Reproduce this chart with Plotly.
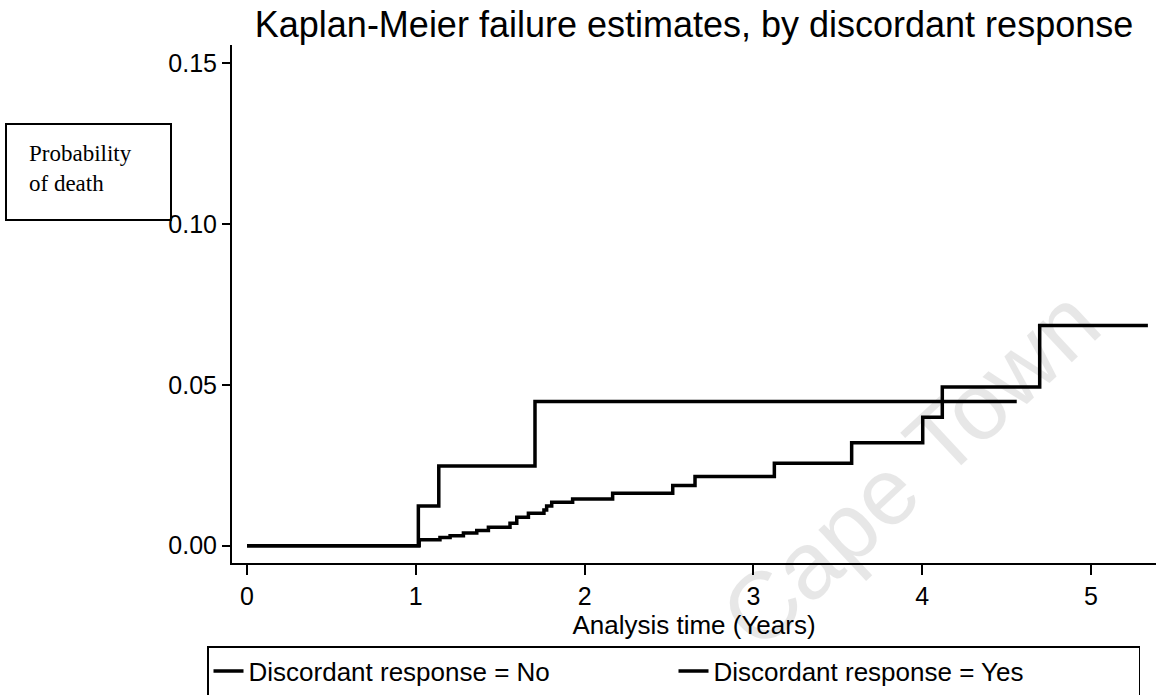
import plotly.graph_objects as go

# Kaplan-Meier failure estimates
time_no = [0, 1.02, 1.143, 1.203, 1.282, 1.361, 1.430, 1.558, 1.598, 1.667, 1.759, 1.775,
           1.805, 1.929, 2.166, 2.522, 2.654, 3.124, 3.582, 4.003, 4.119, 4.696, 5.337]
fail_no = [0, 0.0018, 0.0025, 0.0031, 0.0039, 0.0047, 0.0057, 0.0070, 0.0088, 0.0101, 0.0111,
           0.0123, 0.0135, 0.0145, 0.0163, 0.0187, 0.0215, 0.0256, 0.0320, 0.0399, 0.0493,
           0.0685, 0.0685]

time_yes = [0, 1.015, 1.136, 1.706, 4.56]
fail_yes = [0, 0.0123, 0.0248, 0.0448, 0.0448]

series_names = ["Discordant response = No", "Discordant response = Yes"]
x_ticks = [0, 1, 2, 3, 4, 5]
y_ticks = [0.00, 0.05, 0.10, 0.15]

title_text = "Kaplan-Meier failure estimates, by discordant response"
x_title = "Analysis time (Years)"
y_title = "Probability<br>of death"
watermark = "Cape Town"

W, H = 1156, 695
L, R, T, B = 232, 0, 45, 132
PW, PH = W - L - R, H - T - B


def px(xp):
    return (xp - L) / PW


def py(yp):
    return (H - B - yp) / PH


sans = "Liberation Sans, Arial, Helvetica, sans-serif"
serif = "Liberation Serif, Times New Roman, serif"

fig = go.Figure()
fig.add_trace(go.Scatter(x=time_no, y=fail_no, mode="lines", line_shape="hv",
                         line=dict(color="black", width=3.5), name=series_names[0]))
fig.add_trace(go.Scatter(x=time_yes, y=fail_yes, mode="lines", line_shape="hv",
                         line=dict(color="black", width=3.5), name=series_names[1]))

fig.update_layout(
    width=W, height=H,
    margin=dict(l=L, r=R, t=T, b=B, autoexpand=False),
    paper_bgcolor="white", plot_bgcolor="white",
    font=dict(family=sans, color="black"),
    title=dict(text=title_text, font=dict(family=sans, size=36, color="black"),
               x=0.5, xref="paper", xanchor="center", y=1 - 24 / H, yref="container",
               yanchor="middle"),
    xaxis=dict(range=[-0.089, 5.385], tickvals=x_ticks, ticks="outside", ticklen=10,
               tickwidth=2, tickcolor="black", showline=True, linecolor="black",
               linewidth=2, showgrid=False, zeroline=False,
               tickfont=dict(size=25, family=sans),
               title=dict(text=x_title, font=dict(size=26, family=sans), standoff=0)),
    yaxis=dict(range=[-0.0054, 0.1557], tickvals=y_ticks, tickformat=".2f",
               ticks="outside", ticklen=8, tickwidth=2, tickcolor="black",
               showline=True, linecolor="black", linewidth=2, showgrid=False,
               zeroline=False, tickfont=dict(size=25, family=sans)),
    showlegend=True,
    legend=dict(orientation="h", x=px(207), y=py(646), xanchor="left", yanchor="top",
                bordercolor="black", borderwidth=1.5, font=dict(size=26, family=sans),
                entrywidth=420, entrywidthmode="pixels", bgcolor="rgba(0,0,0,0)"),
)

# Box with y-axis description
fig.add_shape(type="rect", xref="paper", yref="paper",
              x0=px(6), x1=px(171), y0=py(220), y1=py(124),
              line=dict(color="black", width=2), layer="above")
fig.add_annotation(text=y_title, xref="paper", yref="paper", x=px(27), y=py(168),
                   xanchor="left", yanchor="middle", align="left", showarrow=False,
                   font=dict(family=serif, size=23, color="black"))

# faint watermark of the scanned source
fig.add_annotation(text=watermark, xref="paper", yref="paper", x=px(910), y=py(468),
                   xanchor="center", yanchor="middle", textangle=-43, showarrow=False,
                   opacity=0.09, font=dict(family=sans, size=95, color="black"))

fig.write_html("out.html")
